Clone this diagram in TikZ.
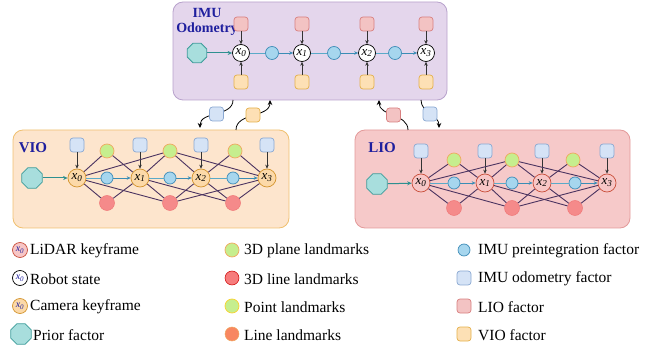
\documentclass[tikz,border=0pt]{standalone}
\usepackage{fontspec}
\setmainfont{Liberation Serif}
\usetikzlibrary{arrows.meta,positioning,shapes.geometric}

\definecolor{imufill}{HTML}{E4D6EC}
\definecolor{imudraw}{HTML}{B8A2CC}
\definecolor{viofill}{HTML}{FDE5CD}
\definecolor{viodraw}{HTML}{F0C070}
\definecolor{liofill}{HTML}{F6C9C9}
\definecolor{liodraw}{HTML}{E39A9A}
\definecolor{ttl}{HTML}{1F1F9E}
\definecolor{lidarfill}{HTML}{F7C6C6}
\definecolor{lidardraw}{HTML}{C9503C}
\definecolor{camfill}{HTML}{FCD9A8}
\definecolor{camdraw}{HTML}{D4952F}
\definecolor{priorfill}{HTML}{A8DEDD}
\definecolor{priordraw}{HTML}{3C9C9A}
\definecolor{preintfill}{HTML}{A6D6EE}
\definecolor{preintdraw}{HTML}{3F8DB8}
\definecolor{imusqfill}{HTML}{D5E3F6}
\definecolor{imusqdraw}{HTML}{8AA8D2}
\definecolor{liosqfill}{HTML}{F3C3C3}
\definecolor{liosqdraw}{HTML}{D88080}
\definecolor{viosqfill}{HTML}{FDE0B5}
\definecolor{viosqdraw}{HTML}{E4B04A}
\definecolor{planefill}{HTML}{C6EE8E}
\definecolor{planedraw}{HTML}{F0A860}
\definecolor{linefill}{HTML}{F58A8A}
\definecolor{linedraw}{HTML}{F07878}
\definecolor{edgec}{HTML}{4B3360}
\definecolor{chainc}{HTML}{5AAAC8}
\definecolor{chainarrc}{HTML}{3A8DB5}
\definecolor{priorarrc}{HTML}{2E9090}

\newcommand{\xlab}[1]{\textit{x}\textsubscript{\textit{#1}}}

\begin{document}
\begin{tikzpicture}[
        x=1pt, y=-1pt,
        panel/.style={draw, rounded corners=10pt, line width=0.8pt},
        paneltitle/.style={font=\fontsize{14}{15}\selectfont\bfseries, text=ttl, align=center, inner sep=0pt},
        state/.style={circle, draw=black, fill=white, line width=0.7pt, minimum size=17pt,
            inner sep=0pt, font=\fontsize{13}{13}\selectfont},
        lidarkf/.style={state, draw=lidardraw, fill=lidarfill, minimum size=18pt},
        camkf/.style={state, draw=camdraw, fill=camfill, minimum size=18pt},
        prior/.style={regular polygon, regular polygon sides=8, draw=priordraw, fill=priorfill,
            line width=0.8pt, minimum size=22pt, inner sep=0pt},
        preint/.style={circle, draw=preintdraw, fill=preintfill, line width=0.7pt,
            minimum size=12pt, inner sep=0pt},
        factor/.style={rectangle, rounded corners=3pt, line width=0.7pt, minimum size=14pt, inner sep=0pt},
        imusq/.style={factor, draw=imusqdraw, fill=imusqfill},
        liosq/.style={factor, draw=liosqdraw, fill=liosqfill},
        viosq/.style={factor, draw=viosqdraw, fill=viosqfill},
        plane/.style={circle, draw=planedraw, fill=planefill, line width=0.7pt,
            minimum size=14pt, inner sep=0pt},
        lmline/.style={circle, draw=linedraw, fill=linefill, line width=0.5pt,
            minimum size=15pt, inner sep=0pt},
        lmedge/.style={draw=edgec, line width=0.9pt},
        imuchain/.style={draw=chainc, line width=0.9pt},
        chainarr/.style={draw=chainarrc, line width=0.9pt, -{Stealth[length=4pt,width=3.5pt]}},
        priorarr/.style={draw=priorarrc, line width=1pt, -{Stealth[length=4.5pt,width=4pt]}},
        facarr/.style={draw=black!80, line width=0.6pt, -{Stealth[length=4pt,width=3.5pt]}},
        link/.style={draw=black, line width=0.8pt, -{Stealth[length=5pt,width=4.5pt]}},
        legtext/.style={anchor=west, inner sep=0pt, font=\fontsize{15.5}{18}\selectfont},
        legx/.style={minimum size=15pt, font=\fontsize{10}{10}\selectfont, text=ttl},
    ]
        \useasboundingbox (0,0) rectangle (661,347);

        % panels
        \node[panel, draw=imudraw, fill=imufill, minimum width=274pt, minimum height=98pt] (imubox) at (310,51) {};
        \node[panel, draw=viodraw, fill=viofill, minimum width=276pt, minimum height=98pt] (viobox) at (151,179) {};
        \node[panel, draw=liodraw, fill=liofill, minimum width=275pt, minimum height=98pt] (liobox) at (492.5,179) {};

        % IMU odometry
        \node[paneltitle] (imutitle) at (207,22) {IMU\\Odometry};
        \node[prior, minimum size=21pt] (iprior) at (197,53) {};
        \foreach \i/\x in {0/241,1/302,2/367,3/426} {
            \node[state] (ix\i) at (\x,53) {\xlab{\i}};
            \node[liosq] (ilo\i) at (\x,24) {};
            \node[viosq] (ivo\i) at (\x,82) {};
        }
        \foreach \j/\x in {1/272,2/334,3/395}
            \node[preint, minimum size=13pt] (ip\j) at (\x,53) {};

        \draw[priorarr] (iprior) -- (ix0);
        \foreach \i/\j in {0/1,1/2,2/3} {
            \draw[imuchain] (ix\i) -- (ip\j);
            \draw[chainarr] (ip\j) -- (ix\j);
        }
        \foreach \i in {0,...,3} {
            \draw[facarr] (ilo\i) -- (ix\i);
            \draw[facarr] (ivo\i) -- (ix\i);
        }

        % VIO
        \node[paneltitle, font=\fontsize{15}{16}\selectfont\bfseries] (viotitle) at (33,148) {VIO};
        \node[prior] (vprior) at (32,178) {};
        \foreach \i/\x in {0/77,1/140,2/201,3/267} {
            \node[camkf] (vx\i) at (\x,178) {\xlab{\i}};
            \node[imusq] (vsq\i) at (\x,145) {};
        }
        \foreach \j/\x/\g in {1/107/107,2/170/170,3/233/235} {
            \node[preint] (vp\j) at (\x,178) {};
            \node[plane] (vg\j) at (\g,151) {};
            \node[lmline] (vr\j) at (\x,203) {};
        }

        % LIO
        \node[paneltitle, font=\fontsize{15}{16}\selectfont\bfseries] (liotitle) at (382,148) {LIO};
        \node[prior] (lprior) at (377,184) {};
        \foreach \i/\x in {0/421,1/485,2/542,3/607} {
            \node[lidarkf] (lx\i) at (\x,183) {\xlab{\i}};
            \node[imusq] (lsq\i) at (\x,151) {};
        }
        \foreach \j/\x/\g in {1/454/454,2/512/512,3/575/573} {
            \node[preint] (lp\j) at (\x,183) {};
            \node[plane] (lg\j) at (\g,160) {};
            \node[lmline] (lr\j) at (\x,208) {};
        }

        \foreach \p in {v,l} {
            \draw[priorarr] (\p prior) -- (\p x0);
            \foreach \i/\j in {0/1,1/2,2/3} {
                \draw[imuchain] (\p x\i) -- (\p p\j);
                \draw[chainarr] (\p p\j) -- (\p x\j);
            }
            \foreach \i in {0,...,3}
                \draw[facarr] (\p sq\i) -- (\p x\i);
            \foreach \a/\b in {g1/x0,g1/x1,g2/x0,g2/x1,g2/x2,g2/x3,g3/x2,g3/x3,
                    r1/x0,r1/x1,r2/x0,r2/x1,r2/x2,r2/x3,r3/x1,r3/x2,r3/x3}
                \draw[lmedge] (\p\a) -- (\p\b);
        }

        % links between the panels
        \coordinate (c1s) at (233,100);
        \coordinate (c1e) at (200,128);
        \coordinate (c2s) at (236,130);
        \coordinate (c2e) at (270,100);
        \coordinate (c3s) at (408,130);
        \coordinate (c3e) at (379,100);
        \coordinate (c4s) at (421,100);
        \coordinate (c4e) at (439,128);
        \draw[link] (c1s) to[out=-90, in=90] node[imusq] (lk1) {} (c1e);
        \draw[link] (c2s) to[out=90, in=-90] node[viosq] (lk2) {} (c2e);
        \draw[link] (c3s) to[out=90, in=-90] node[liosq] (lk3) {} (c3e);
        \draw[link] (c4s) to[out=-90, in=90] node[imusq] (lk4) {} (c4e);

        % legend
        \node[lidarkf, legx] (k1) at (20,250) {\xlab{0}};
        \node[state, legx] (k2) at (20,278) {\xlab{0}};
        \node[camkf, legx] (k3) at (20,306) {\xlab{0}};
        \node[prior] (k4) at (21,334) {};
        \node[legtext] (t1) at (30,251) {LiDAR keyframe};
        \node[legtext] (t2) at (30,279) {Robot state};
        \node[legtext] (t3) at (30,307) {Camera keyframe};
        \node[legtext] (t4) at (33,335) {Prior factor};

        \node[plane] (k5) at (232,250) {};
        \node[lmline, draw=red!80!black, fill=linefill!90!red, minimum size=14pt] (k6) at (232,278) {};
        \node[plane, draw=planedraw!50!yellow] (k7) at (232,306) {};
        \node[lmline, draw=planedraw, fill=linefill!70!orange, minimum size=14pt] (k8) at (232,334) {};
        \node[legtext] (t5) at (244,251) {3D plane landmarks};
        \node[legtext] (t6) at (244,279) {3D line landmarks};
        \node[legtext] (t7) at (244,307) {Point landmarks};
        \node[legtext] (t8) at (244,335) {Line landmarks};

        \node[preint] (k9) at (464,250) {};
        \node[imusq] (k10) at (464,278) {};
        \node[liosq] (k11) at (464,306) {};
        \node[viosq] (k12) at (464,334) {};
        \node[legtext] (t9) at (478,251) {IMU preintegration factor};
        \node[legtext] (t10) at (478,279) {IMU odometry factor};
        \node[legtext] (t11) at (478,307) {LIO factor};
        \node[legtext] (t12) at (478,335) {VIO factor};
    \end{tikzpicture}
\end{document}
